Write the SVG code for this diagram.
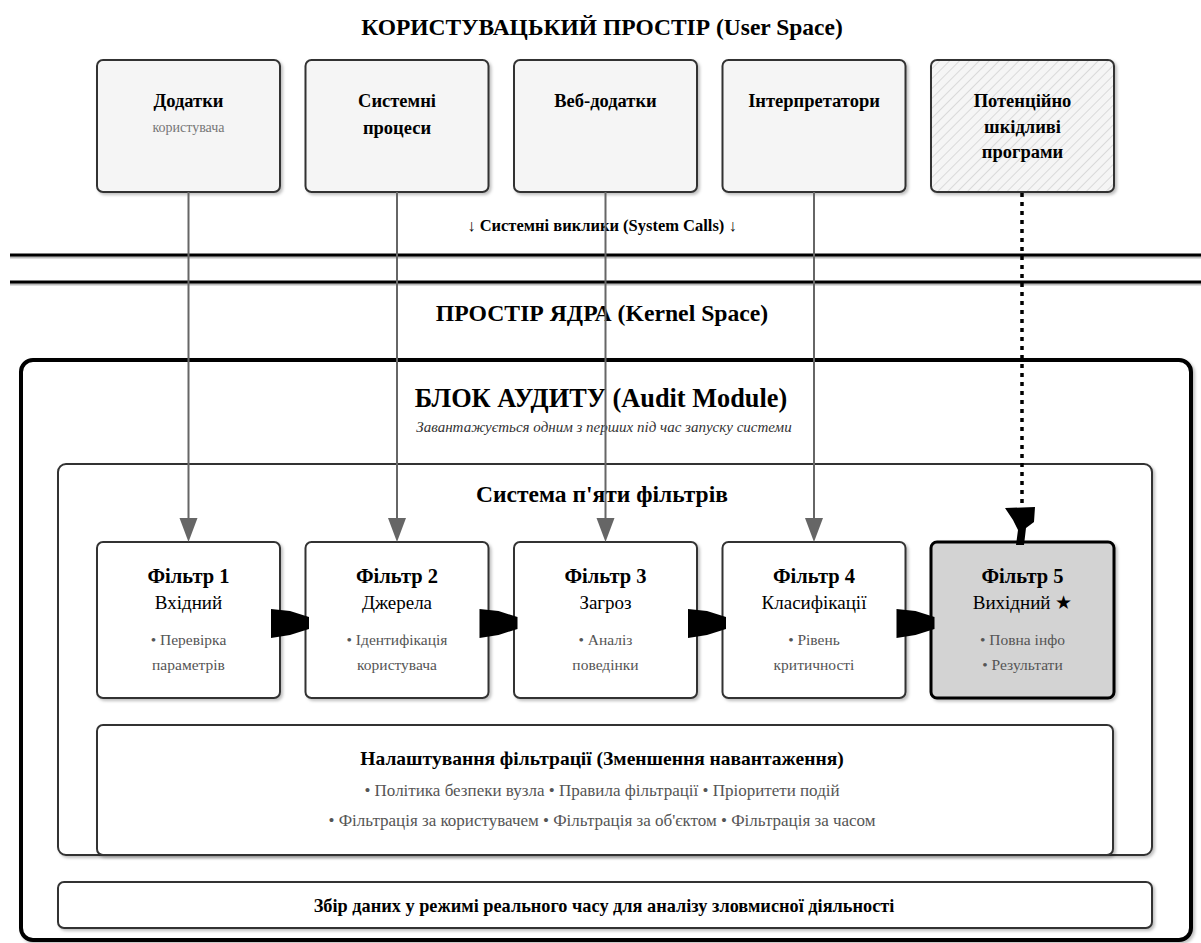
<svg xmlns="http://www.w3.org/2000/svg" width="1201" height="943" viewBox="0 0 1201 943">
<defs>
<style>
text{font-family:"Liberation Serif","Times New Roman",serif;text-anchor:middle;fill:#000}
.b{font-weight:bold}
.ub{fill:#f5f5f5;stroke:#333;stroke-width:2}
.fb{fill:#fff;stroke:#333;stroke-width:2}
.sh{filter:url(#sh)}
.vl{stroke:#666;stroke-width:2;fill:none}
.ut{font-weight:bold;font-size:18.5px}
.ft{font-weight:bold;font-size:20.5px}
.fs{font-size:19px}
.bl{font-size:15.5px;fill:#555}
.sm{font-size:14px;fill:#777}
.it{font-size:15px;font-style:italic;fill:#333}
.sl{font-size:17px;fill:#555}
</style>
<filter id="sh" x="-10%" y="-10%" width="130%" height="130%">
<feDropShadow dx="2" dy="2" stdDeviation="1.5" flood-color="#000" flood-opacity="0.25"/>
</filter>
<pattern id="hatch" width="7" height="7" patternUnits="userSpaceOnUse" patternTransform="rotate(45)">
<rect width="7" height="7" fill="#f5f5f5"/>
<line x1="0" y1="0" x2="0" y2="7" stroke="#d0d0d0" stroke-width="1.5"/>
</pattern>
</defs>
<rect width="1201" height="943" fill="#fff"/>

<text class="b" x="602" y="35" font-size="23.5">КОРИСТУВАЦЬКИЙ ПРОСТІР (User Space)</text>

<g id="u1"><rect class="ub sh" x="97" y="60" width="183" height="132" rx="6"/>
<text class="ut" x="188.5" y="107">Додатки</text>
<text class="sm" x="188.5" y="132">користувача</text></g>
<g id="u2"><rect class="ub sh" x="305.5" y="60" width="183" height="132" rx="6"/>
<text class="ut" x="397" y="107">Системні</text>
<text class="ut" x="397" y="134">процеси</text></g>
<g id="u3"><rect class="ub sh" x="514" y="60" width="183" height="132" rx="6"/>
<text class="ut" x="605.5" y="107">Веб-додатки</text></g>
<g id="u4"><rect class="ub sh" x="722.5" y="60" width="183" height="132" rx="6"/>
<text class="ut" x="814" y="107">Інтерпретатори</text></g>
<g id="u5"><rect class="sh" x="931" y="60" width="183" height="132" rx="6" fill="url(#hatch)" stroke="#333" stroke-width="2"/>
<text class="ut" x="1022.5" y="107">Потенційно</text>
<text class="ut" x="1022.5" y="133">шкідливі</text>
<text class="ut" x="1022.5" y="158">програми</text></g>

<text class="b" x="602" y="231" font-size="16.5">↓ Системні виклики (System Calls) ↓</text>

<g id="separator">
<line x1="10" y1="257" x2="1201" y2="257" stroke="#bbb" stroke-width="3"/>
<line x1="10" y1="255" x2="1201" y2="255" stroke="#000" stroke-width="3"/>
<line x1="10" y1="284" x2="1201" y2="284" stroke="#bbb" stroke-width="3"/>
<line x1="10" y1="282" x2="1201" y2="282" stroke="#000" stroke-width="3"/>
</g>

<text class="b" x="602" y="321" font-size="23.7">ПРОСТІР ЯДРА (Kernel Space)</text>

<g id="audit">
<rect x="21" y="360" width="1170" height="580" rx="12" fill="#fff" stroke="#000" stroke-width="4" class="sh"/>
<text class="b" x="601" y="407" font-size="26.3">БЛОК АУДИТУ (Audit Module)</text>
<text class="it" x="604" y="432">Завантажується одним з перших під час запуску системи</text>
</g>

<g id="filters-system">
<rect x="58" y="464" width="1094" height="391" rx="8" fill="#fff" stroke="#333" stroke-width="2" class="sh"/>
<text class="b" x="602" y="502" font-size="23.5">Система п'яти фільтрів</text>
</g>

<g id="f1"><rect class="fb sh" x="97" y="542" width="183" height="156" rx="6"/>
<text class="ft" x="188.5" y="583">Фільтр 1</text>
<text class="fs" x="188.5" y="609">Вхідний</text>
<text class="bl" x="188.5" y="645">• Перевірка</text>
<text class="bl" x="188.5" y="670">параметрів</text></g>
<g id="f2"><rect class="fb sh" x="305.5" y="542" width="183" height="156" rx="6"/>
<text class="ft" x="397" y="583">Фільтр 2</text>
<text class="fs" x="397" y="609">Джерела</text>
<text class="bl" x="397" y="645">• Ідентифікація</text>
<text class="bl" x="397" y="670">користувача</text></g>
<g id="f3"><rect class="fb sh" x="514" y="542" width="183" height="156" rx="6"/>
<text class="ft" x="605.5" y="583">Фільтр 3</text>
<text class="fs" x="605.5" y="609">Загроз</text>
<text class="bl" x="605.5" y="645">• Аналіз</text>
<text class="bl" x="605.5" y="670">поведінки</text></g>
<g id="f4"><rect class="fb sh" x="722.5" y="542" width="183" height="156" rx="6"/>
<text class="ft" x="814" y="583">Фільтр 4</text>
<text class="fs" x="814" y="609">Класифікації</text>
<text class="bl" x="814" y="645">• Рівень</text>
<text class="bl" x="814" y="670">критичності</text></g>
<g id="f5"><rect class="sh" x="931" y="542" width="183" height="156" rx="6" fill="#d3d3d3" stroke="#000" stroke-width="3"/>
<text class="ft" x="1022.5" y="583">Фільтр 5</text>
<text class="fs" x="1022.5" y="609">Вихідний ★</text>
<text class="bl" x="1022.5" y="645">• Повна інфо</text>
<text class="bl" x="1022.5" y="670">• Результати</text></g>

<g id="settings"><rect class="fb sh" x="97" y="725" width="1016" height="130" rx="6"/>
<text class="b" x="602" y="765" font-size="19.5">Налаштування фільтрації (Зменшення навантаження)</text>
<text class="sl" x="602" y="796">• Політика безпеки вузла • Правила фільтрації • Пріоритети подій</text>
<text class="sl" x="602" y="826">• Фільтрація за користувачем • Фільтрація за об'єктом • Фільтрація за часом</text></g>

<g id="collect"><rect class="fb sh" x="58" y="882" width="1094" height="46" rx="6"/>
<text class="b" x="604" y="912" font-size="18.3">Збір даних у режимі реального часу для аналізу зловмисної діяльності</text></g>

<g id="connectors">
<line class="vl" x1="188.5" y1="192" x2="188.5" y2="519"/>
<polygon points="179.5,518 197.5,518 188.5,542" fill="#666"/>
<line class="vl" x1="397" y1="192" x2="397" y2="519"/>
<polygon points="388,518 406,518 397,542" fill="#666"/>
<line class="vl" x1="605.5" y1="192" x2="605.5" y2="519"/>
<polygon points="596.5,518 614.5,518 605.5,542" fill="#666"/>
<line class="vl" x1="814" y1="192" x2="814" y2="519"/>
<polygon points="805,518 823,518 814,542" fill="#666"/>
<line x1="1022" y1="193" x2="1022" y2="508" stroke="#000" stroke-width="3.5" stroke-dasharray="4,5"/>
<path d="M1005,508 L1035,507 L1034,522 L1026,528 L1024,545 L1016,545 L1018,530 L1013,520 Z" fill="#000"/>
<path d="M271,609 L290,611 L309,617 L309,629 L290,635 L271,638 Z" fill="#000"/>
<path d="M479.5,609 L498.5,611 L517.5,617 L517.5,629 L498.5,635 L479.5,638 Z" fill="#000"/>
<path d="M688,609 L707,611 L726,617 L726,629 L707,635 L688,638 Z" fill="#000"/>
<path d="M896.5,609 L915.5,611 L934.5,617 L934.5,629 L915.5,635 L896.5,638 Z" fill="#000"/>
</g>
</svg>
